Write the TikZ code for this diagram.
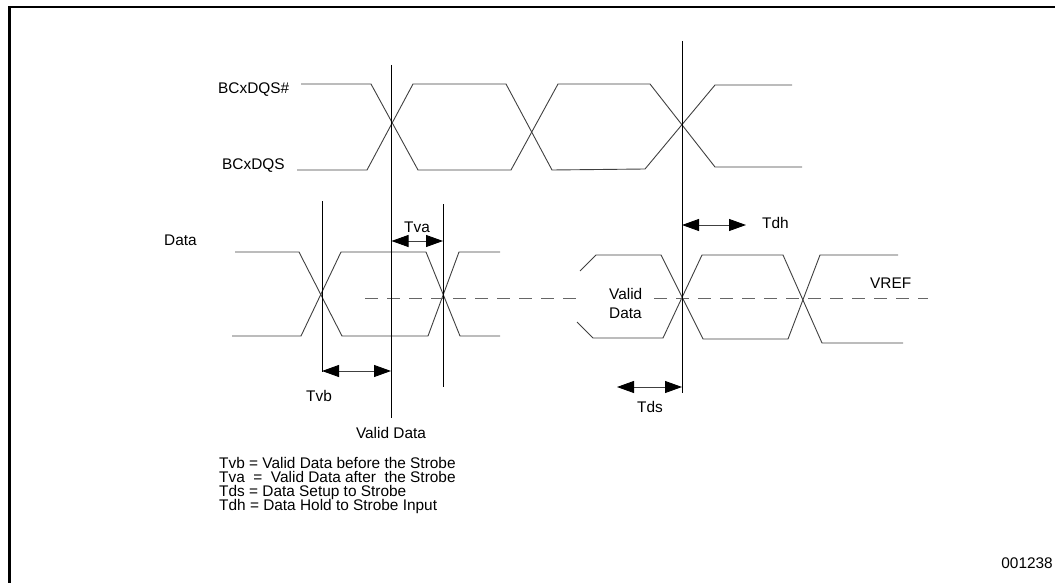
\documentclass[tikz,border=0pt]{standalone}
\usepackage{fontspec}
\setmainfont{Liberation Sans}
\usetikzlibrary{arrows.meta}
\begin{document}
\begin{tikzpicture}[x=1pt,y=-1pt,
  lbl/.style={inner sep=0pt,font=\fontsize{15.4}{14.3}\selectfont},
  wave/.style={draw=black!75,line width=0.9pt,line join=miter},
  strobe/.style={draw=black,line width=0.9pt},
  vref/.style={draw=black!60,line width=0.9pt,dash pattern=on 13pt off 9pt},
  tip/.style={Triangle[length=17pt,width=12pt,color=black,fill=black]},
  dim/.style={draw=black!75,line width=0.9pt,{Triangle[length=17pt,width=12pt,color=black,fill=black]}-{Triangle[length=17pt,width=12pt,color=black,fill=black]}},
  frame/.style={draw=black,line width=2.5pt}]
\useasboundingbox (0,0) rectangle (1055,583);
\draw[frame] (9.5,583) -- (9.5,7) -- (1056,7);

% strobe waveforms
\draw[wave] (301,84) -- (371,84) -- (418,170) -- (511,170) -- (558,84) -- (650,84) -- (715,167) -- (802,167);
\draw[wave] (297,170) -- (367,170) -- (413,84) -- (506,84) -- (552,170) -- (645,169) -- (715,85) -- (792,85);

% data waveforms left
\draw[wave] (235,252) -- (299,252) -- (342,336) -- (428,336) -- (459,252) -- (500,252);
\draw[wave] (232,336) -- (301,336) -- (341,252) -- (426,252) -- (460,336) -- (500,336);
% data waveforms right
\draw[wave] (580,271) -- (596,255) -- (661,255) -- (703,339) -- (788,339) -- (820,255) -- (898,255);
\draw[wave] (577,322) -- (593,338) -- (663,338) -- (702,255) -- (783,255) -- (822,343) -- (903,343);

% VREF dashed
\draw[vref] (365,298) -- (577,298);
\draw[vref] (654,298) -- (928,298);

% vertical lines
\coordinate (v1t) at (391.5,65);  \coordinate (v1b) at (391.5,418);
\coordinate (v2t) at (682,41);    \coordinate (v2b) at (682,393);
\coordinate (v3t) at (322,201);   \coordinate (v3b) at (322,372);
\coordinate (v4t) at (443,204);   \coordinate (v4b) at (443,387);
\draw[strobe] (v1t) -- (v1b);
\draw[strobe] (v2t) -- (v2b);
\draw[strobe] (v3t) -- (v3b);
\draw[strobe] (v4t) -- (v4b);

% dimension arrows
\coordinate (tvaL) at (391.5,241); \coordinate (tvaR) at (443,241);
\coordinate (tdhL) at (682,225);   \coordinate (tdhR) at (746,225);
\coordinate (tvbL) at (322,371);   \coordinate (tvbR) at (391,371);
\coordinate (tdsL) at (617,387);   \coordinate (tdsR) at (682,387);
\draw[dim] (tvaL) -- (tvaR);
\draw[dim] (tdhL) -- (tdhR);
\draw[dim] (tvbL) -- (tvbR);
\draw[dim] (tdsL) -- (tdsR);

% labels
\node[lbl,anchor=base west] (dqsn) at (218,93.5) {BCxDQS\#};
\node[lbl,anchor=base west] (dqs) at (222,170) {BCxDQS};
\node[lbl,anchor=base west] (data) at (164,245) {Data};
\node[lbl,anchor=base] (tva) at (417,232) {Tva};
\node[lbl,anchor=base west] (tdh) at (762,228) {Tdh};
\node[lbl,anchor=base west] (vreflbl) at (870,288) {VREF};
\node[lbl,anchor=base west] (valid1) at (609,299) {Valid};
\node[lbl,anchor=base west] (valid2) at (609,318) {Data};
\node[lbl,anchor=base] (tvb) at (319,401) {Tvb};
\node[lbl,anchor=base] (tds) at (650,412) {Tds};
\node[lbl,anchor=base] (vd) at (391,438) {Valid Data};
\node[lbl,anchor=base west] (leg1) at (219,468) {Tvb = Valid Data before the Strobe};
\node[lbl,anchor=base west] (leg2) at (219,482) {Tva\ \ =\ \ Valid Data after\ \ the Strobe};
\node[lbl,anchor=base west] (leg3) at (219,496) {Tds = Data Setup to Strobe};
\node[lbl,anchor=base west] (leg4) at (219,510) {Tdh = Data Hold to Strobe Input};
\node[lbl,anchor=base east] (fig) at (1053,568) {001238};
\end{tikzpicture}
\end{document}
